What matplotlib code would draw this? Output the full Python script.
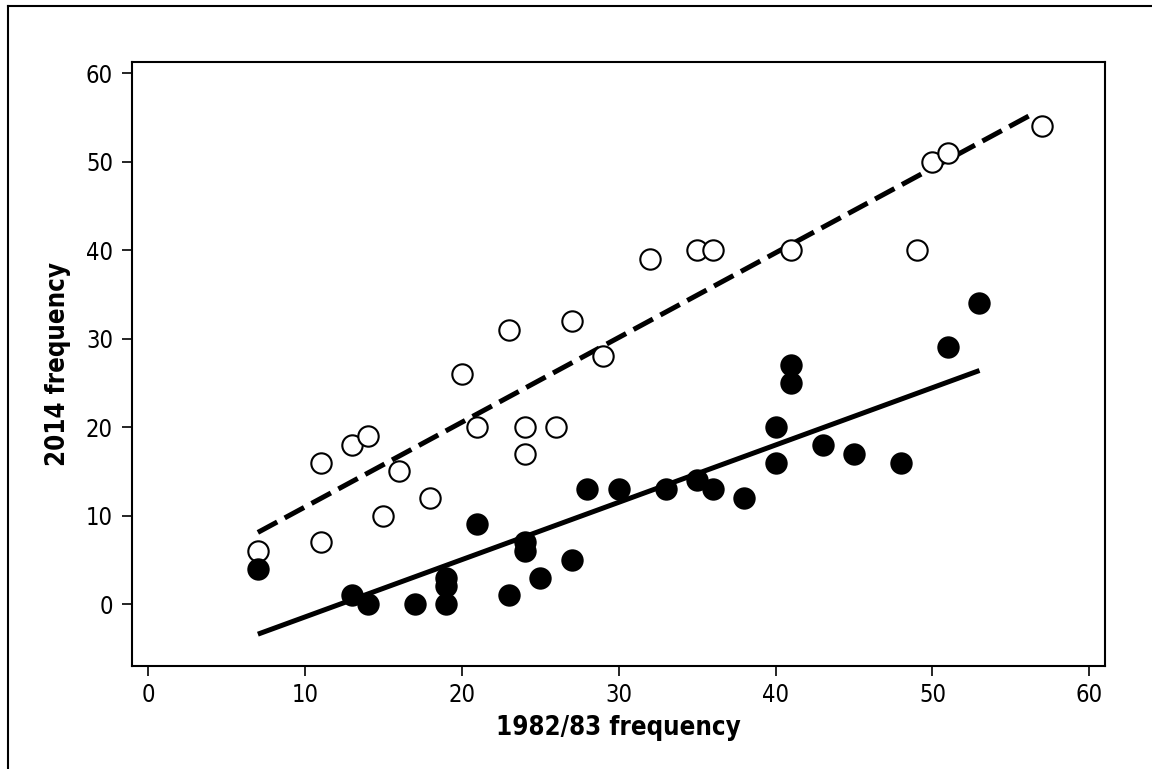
import matplotlib
matplotlib.use("Agg")
import matplotlib.pyplot as plt
from matplotlib.lines import Line2D

# open circles (upper group)
open_x = [7, 11, 11, 13, 14, 15, 16, 18, 20, 21, 23, 24, 24, 26, 27, 29,
          32, 35, 36, 41, 49, 50, 51, 57]
open_y = [6, 7, 16, 18, 19, 10, 15, 12, 26, 20, 31, 20, 17, 20, 32, 28,
          39, 40, 40, 40, 40, 50, 51, 54]

# filled circles (lower group)
filled_x = [7, 13, 14, 17, 19, 19, 19, 21, 23, 24, 24, 25, 27, 28, 30, 33,
            35, 36, 38, 40, 40, 41, 41, 43, 45, 48, 51, 53]
filled_y = [4, 1, 0, 0, 0, 2, 3, 9, 1, 6, 7, 3, 5, 13, 13, 13,
            14, 13, 12, 16, 20, 25, 27, 18, 17, 16, 29, 34]

# fitted lines, endpoints
open_fit_x = [7, 56.5]
open_fit_y = [8.1, 55.5]
filled_fit_x = [7, 53]
filled_fit_y = [-3.4, 26.4]

xticks = [0, 10, 20, 30, 40, 50, 60]
yticks = [0, 10, 20, 30, 40, 50, 60]

plt.rcParams["font.family"] = ["DejaVu Sans"]
plt.rcParams["font.stretch"] = "condensed"

fig = plt.figure(figsize=(11.52, 7.69), dpi=100)
ax = fig.add_axes([0.1149, 0.1339, 0.8443, 0.7859])

ax.plot(open_fit_x, open_fit_y, color="black", lw=3.6, dashes=(4.4, 1.7),
        solid_capstyle="butt", dash_capstyle="butt", zorder=2)
ax.plot(filled_fit_x, filled_fit_y, color="black", lw=3.6,
        solid_capstyle="butt", zorder=2)

ax.scatter(open_x, open_y, s=215, facecolors="white", edgecolors="black",
           linewidths=1.5, zorder=3)
ax.scatter(filled_x, filled_y, s=260, color="black", linewidths=0, zorder=3)

ax.set_xlim(-1, 61)
ax.set_ylim(-7, 61.3)
ax.set_xticks(xticks)
ax.set_yticks(yticks)
ax.tick_params(direction="out", length=7, width=1.2, labelsize=17)
ax.tick_params(axis="x", pad=5)
ax.tick_params(axis="y", pad=7)
for sp in ax.spines.values():
    sp.set_linewidth(1.5)

ax.set_xlabel("1982/83 frequency", fontsize=18.5, fontweight="bold", labelpad=6)
ax.set_ylabel("2014 frequency", fontsize=18.5, fontweight="bold", labelpad=11)

# outer frame (left and top edges visible)
W, H = 1152, 769
fig.add_artist(Line2D([8 / W, 8 / W], [0, 1 - 6 / H], transform=fig.transFigure,
                      color="black", lw=1.5))
fig.add_artist(Line2D([8 / W, 1], [1 - 6 / H, 1 - 6 / H], transform=fig.transFigure,
                      color="black", lw=1.5))

fig.savefig("out.png", dpi=100)
